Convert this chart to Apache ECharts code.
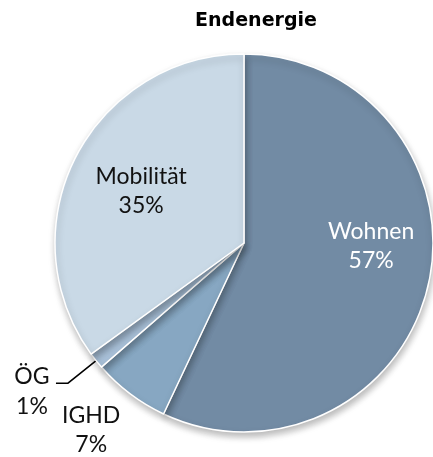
<!DOCTYPE html>
<html>
<head>
<meta charset="utf-8">
<script src="https://cdn.jsdelivr.net/npm/echarts@6/dist/echarts.min.js"></script>
<style>
  html, body { margin: 0; padding: 0; background: #fff; }
  #chart { width: 433px; height: 457px; }
</style>
</head>
<body>
<div id="chart"></div>
<script>
const categories = ["Wohnen", "IGHD", "ÖG", "Mobilität"];
const shares = [57.0, 6.6, 1.4, 35.0];
const colors = ["#728ba4", "#87a7c2", "#a8c0d8", "#c9d9e6"];
const labelColors = ["#ffffff", "#111111", "#111111", "#111111"];

// nudges applied to the default label spots (px)
const labelShift = [[32, -18], [-94, 109], [0, 0], [-16, -8]];

const chart = echarts.init(document.getElementById("chart"));
chart.setOption({
  title: {
    text: "Endenergie",
    left: 251,
    top: 7,
    textAlign: "center",
    textStyle: { fontFamily: "DejaVu Sans", fontWeight: "bold", fontSize: 19, color: "#000" }
  },
  series: [{
    type: "pie",
    center: [244, 243],
    radius: 189,
    startAngle: 90,
    clockwise: true,
    animation: false,
    itemStyle: {
      borderColor: "#fff",
      borderWidth: 1.5,
      shadowColor: "rgba(0,0,0,0.28)",
      shadowBlur: 7,
      shadowOffsetY: 4,
      shadowOffsetX: 1
    },
    label: {
      position: "inside",
      fontFamily: "Lato",
      fontSize: 23,
      lineHeight: 29,
      align: "center",
      bleedMargin: 0,
      formatter: p => p.name + "\n" + Math.round(p.percent) + "%"
    },
    labelLine: { show: false },
    labelLayout: p => ({ dx: labelShift[p.dataIndex][0], dy: labelShift[p.dataIndex][1] }),
    data: categories.map((name, i) => {
      const item = {
        name: name,
        value: shares[i],
        itemStyle: { color: colors[i] },
        label: { color: labelColors[i] }
      };
      if (name === "ÖG") {
        item.label = {
          position: "outside",
          color: labelColors[i],
          bleedMargin: 0,
          distanceToLabelLine: 4,
          padding: [16, 0, 0, 0],
          formatter: p => "{a|" + p.name + "}\n{a|" + Math.round(p.percent) + "%}",
          rich: { a: { width: 40, align: "center", fontFamily: "Lato", fontSize: 23, lineHeight: 30, color: "#111" } }
        };
        item.labelLine = { show: true, length: 36, length2: 12, smooth: false, lineStyle: { color: "#000", width: 1.5 } };
      }
      return item;
    })
  }]
});
</script>
</body>
</html>
